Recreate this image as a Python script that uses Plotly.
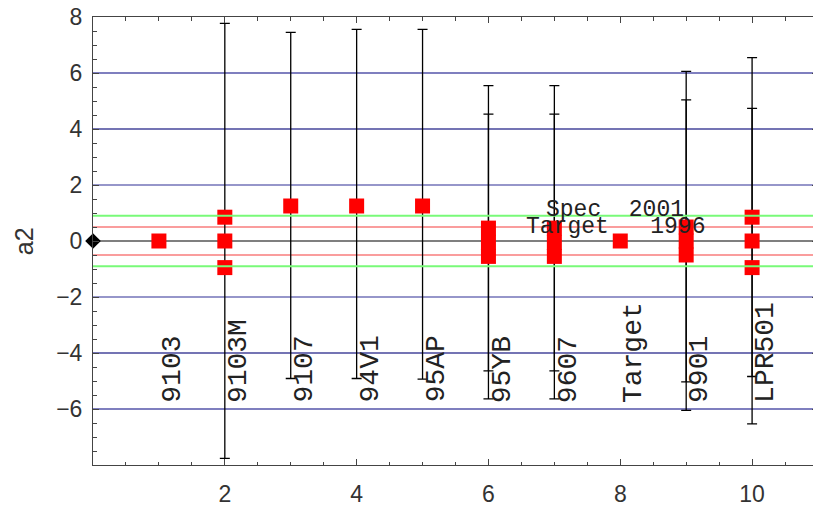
import plotly.graph_objects as go

# ---- data ----
categories = ["9103", "9103M", "9107", "94V1", "95AP", "95YB", "9607", "Target", "9901", "LPR501"]
cat_pos = [1, 2, 3, 4, 5, 6, 7, 8, 9, 10]

pt_x = [1, 2, 2, 2, 3, 4, 5, 6, 6, 6, 7, 7, 7, 8, 9, 9, 9, 10, 10, 10]
pt_y = [0, 0.85, 0, -0.95, 1.25, 1.25, 1.25, 0.46, -0.05, -0.55, 0.46, -0.05, -0.55,
        0, 0.5, 0, -0.5, 0.85, 0, -0.95]

eb_x = [2, 3, 4, 5, 6, 6, 7, 7, 9, 9, 10, 10]
eb_y = [0, 1.25, 1.25, 1.25, 0.46, -0.55, 0.46, -0.55, 0.5, -0.5, 0.85, -0.95]
eb_plus = [7.77, 6.2, 6.31, 6.31, 5.09, 5.08, 5.09, 5.08, 5.56, 5.54, 5.7, 5.69]
eb_minus = [7.76, 6.16, 6.16, 6.18, 5.1, 5.09, 5.1, 5.09, 5.53, 5.55, 5.69, 5.58]

ref_x = [0]
ref_y = [0]

blue_levels = [6, 4, 2, -2, -4, -6]
green_levels = [0.9, -0.9]
red_levels = [0.5, -0.5]
zero_level = [0]

spec_text = ["Spec\u00a0\u00a02001", "Target\u00a0\u00a0\u00a01996"]
spec_x = [7.92, 7.92]
spec_y = [1.12, 0.5]

x_ticks = [2, 4, 6, 8, 10]
y_ticks = [-6, -4, -2, 0, 2, 4, 6, 8]
y_ticktext = ["\u22126", "\u22124", "\u22122", "0", "2", "4", "6", "8"]

label_y = -5.85

# ---- figure ----
fig = go.Figure()

fig.add_trace(go.Scatter(
    x=eb_x, y=eb_y, mode="markers",
    marker=dict(size=1, opacity=0),
    error_y=dict(type="data", symmetric=False, array=eb_plus, arrayminus=eb_minus,
                 color="black", thickness=1.3, width=5),
    hoverinfo="skip", showlegend=False))

fig.add_trace(go.Scatter(
    x=pt_x, y=pt_y, mode="markers",
    marker=dict(symbol="square", size=15, color="red", line=dict(width=0)),
    showlegend=False))

fig.add_trace(go.Scatter(
    x=ref_x, y=ref_y, mode="markers", cliponaxis=False,
    marker=dict(symbol="diamond", size=12, color="black"),
    showlegend=False))

blue_colors = {6: "rgb(0,0,128)", 4: "rgb(70,70,155)", 2: "rgb(115,115,185)"}
for lv in blue_levels:
    fig.add_shape(type="line", xref="paper", x0=0, x1=1, yref="y", y0=lv, y1=lv,
                  line=dict(color=blue_colors[abs(lv)], width=1.4 if abs(lv) != 6 else 1.1),
                  layer="below")
for lv in red_levels:
    fig.add_shape(type="line", xref="paper", x0=0, x1=1, yref="y", y0=lv, y1=lv,
                  line=dict(color="rgb(245,60,60)", width=1.1), layer="below")
for lv in zero_level:
    fig.add_shape(type="line", xref="paper", x0=0, x1=1, yref="y", y0=lv, y1=lv,
                  line=dict(color="black", width=1.2), layer="below")
for lv in green_levels:
    fig.add_shape(type="line", xref="paper", x0=0, x1=1, yref="y", y0=lv, y1=lv,
                  line=dict(color="rgb(120,250,120)", width=2), layer="above")

for name, xp in zip(categories, cat_pos):
    fig.add_annotation(x=xp, y=label_y, text=name, textangle=-90, showarrow=False,
                       xanchor="left", yanchor="bottom", xshift=-4,
                       font=dict(family="Liberation Mono", size=28, color="#222"))

for t, xs, ys in zip(spec_text, spec_x, spec_y):
    fig.add_annotation(x=xs, y=ys, text=t, showarrow=False, xanchor="center", yanchor="middle",
                       font=dict(family="Liberation Mono", size=23, color="#222"))

fig.add_annotation(xref="paper", yref="y", x=-0.095, y=0, text="a2", textangle=-90,
                   showarrow=False, xanchor="center", yanchor="middle",
                   font=dict(family="Liberation Sans", size=25, color="#333"))

axis_common = dict(showgrid=False, zeroline=False, showline=True, linecolor="#444", linewidth=1,
                   mirror="ticks", ticks="inside", ticklen=6, tickcolor="#444", tickwidth=1,
                   automargin=False, ticklabeloverflow="allow",
                   tickfont=dict(family="Liberation Sans", size=23, color="#333"))

fig.update_xaxes(range=[0, 11], tickvals=x_ticks, ticklabelstandoff=8,
                 minor=dict(dtick=0.5, tick0=0, ticks="inside", ticklen=3.5, tickcolor="#444"),
                 **axis_common)
fig.update_yaxes(range=[-8, 8], tickvals=y_ticks, ticktext=y_ticktext, ticklabelstandoff=5,
                 minor=dict(dtick=0.5, tick0=0, ticks="inside", ticklen=3.5, tickcolor="#444"),
                 **axis_common)

# the page body adds an 8px offset, so the figure is placed to compensate
fig.update_layout(width=813, height=502, margin=dict(l=85, r=3, t=9, b=45),
                  plot_bgcolor="white", paper_bgcolor="white", showlegend=False)

fig.write_html("out.html")
